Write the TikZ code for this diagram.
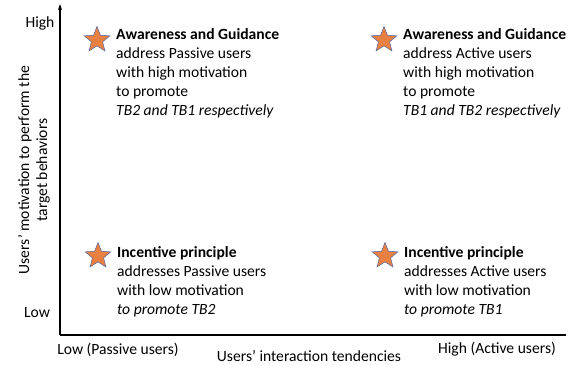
\documentclass[tikz,border=0pt]{standalone}
\usepackage{fontspec}
\setmainfont{Carlito}
\usetikzlibrary{shapes.geometric,arrows.meta}
\definecolor{starfill}{RGB}{232,128,66}
\definecolor{starline}{RGB}{80,100,160}
\begin{document}
\begin{tikzpicture}[x=1pt,y=-1pt,
  lbl/.style={font=\fontsize{15.6}{19}\selectfont, inner sep=0pt},
  blk/.style={lbl, align=left, anchor=north west},
  starmark/.style={star, star points=5, star point ratio=2.3, minimum size=27pt, inner sep=0pt, fill=starfill, draw=starline, line width=0.5pt},
  axis/.style={line width=1.1pt}]
\useasboundingbox (0,0) rectangle (569,365);
\coordinate (O) at (60,335);
\coordinate (Ytop) at (60,4);
\coordinate (Xend) at (566,335);
\draw[axis] (O) -- (Xend);
\draw[axis,-{Stealth[length=6pt,width=4pt]}] (O) -- (Ytop);

\node[lbl] (high) at (40,23) {High};
\node[lbl] (low) at (37,313) {Low};
\node[lbl, rotate=90, align=center] (ylab) at (34,170) {Users’ motivation to perform the\\[-1pt]target behaviors};
\node[lbl] (xlow) at (118,350) {Low (Passive users)};
\node[lbl] (xlab) at (309,356) {Users’ interaction tendencies};
\node[lbl] (xhigh) at (497,349) {High (Active users)};

\node[starmark] (s1) at (97,40) {};
\node[starmark] (s2) at (384,40) {};
\node[starmark] (s3) at (98,256) {};
\node[starmark] (s4) at (385,256) {};

\node[blk] (t1) at (116,28) {\textbf{Awareness and Guidance}\\address Passive users\\with high motivation\\to promote\\\textit{TB2 and TB1 respectively}};
\node[blk] (t2) at (403,28) {\textbf{Awareness and Guidance}\\address Active users\\with high motivation\\to promote\\\textit{TB1 and TB2 respectively}};
\node[blk] (t3) at (117,246) {\textbf{Incentive principle}\\addresses Passive users\\with low motivation\\\textit{to promote TB2}};
\node[blk] (t4) at (404,246) {\textbf{Incentive principle}\\addresses Active users\\with low motivation\\\textit{to promote TB1}};
\end{tikzpicture}
\end{document}
